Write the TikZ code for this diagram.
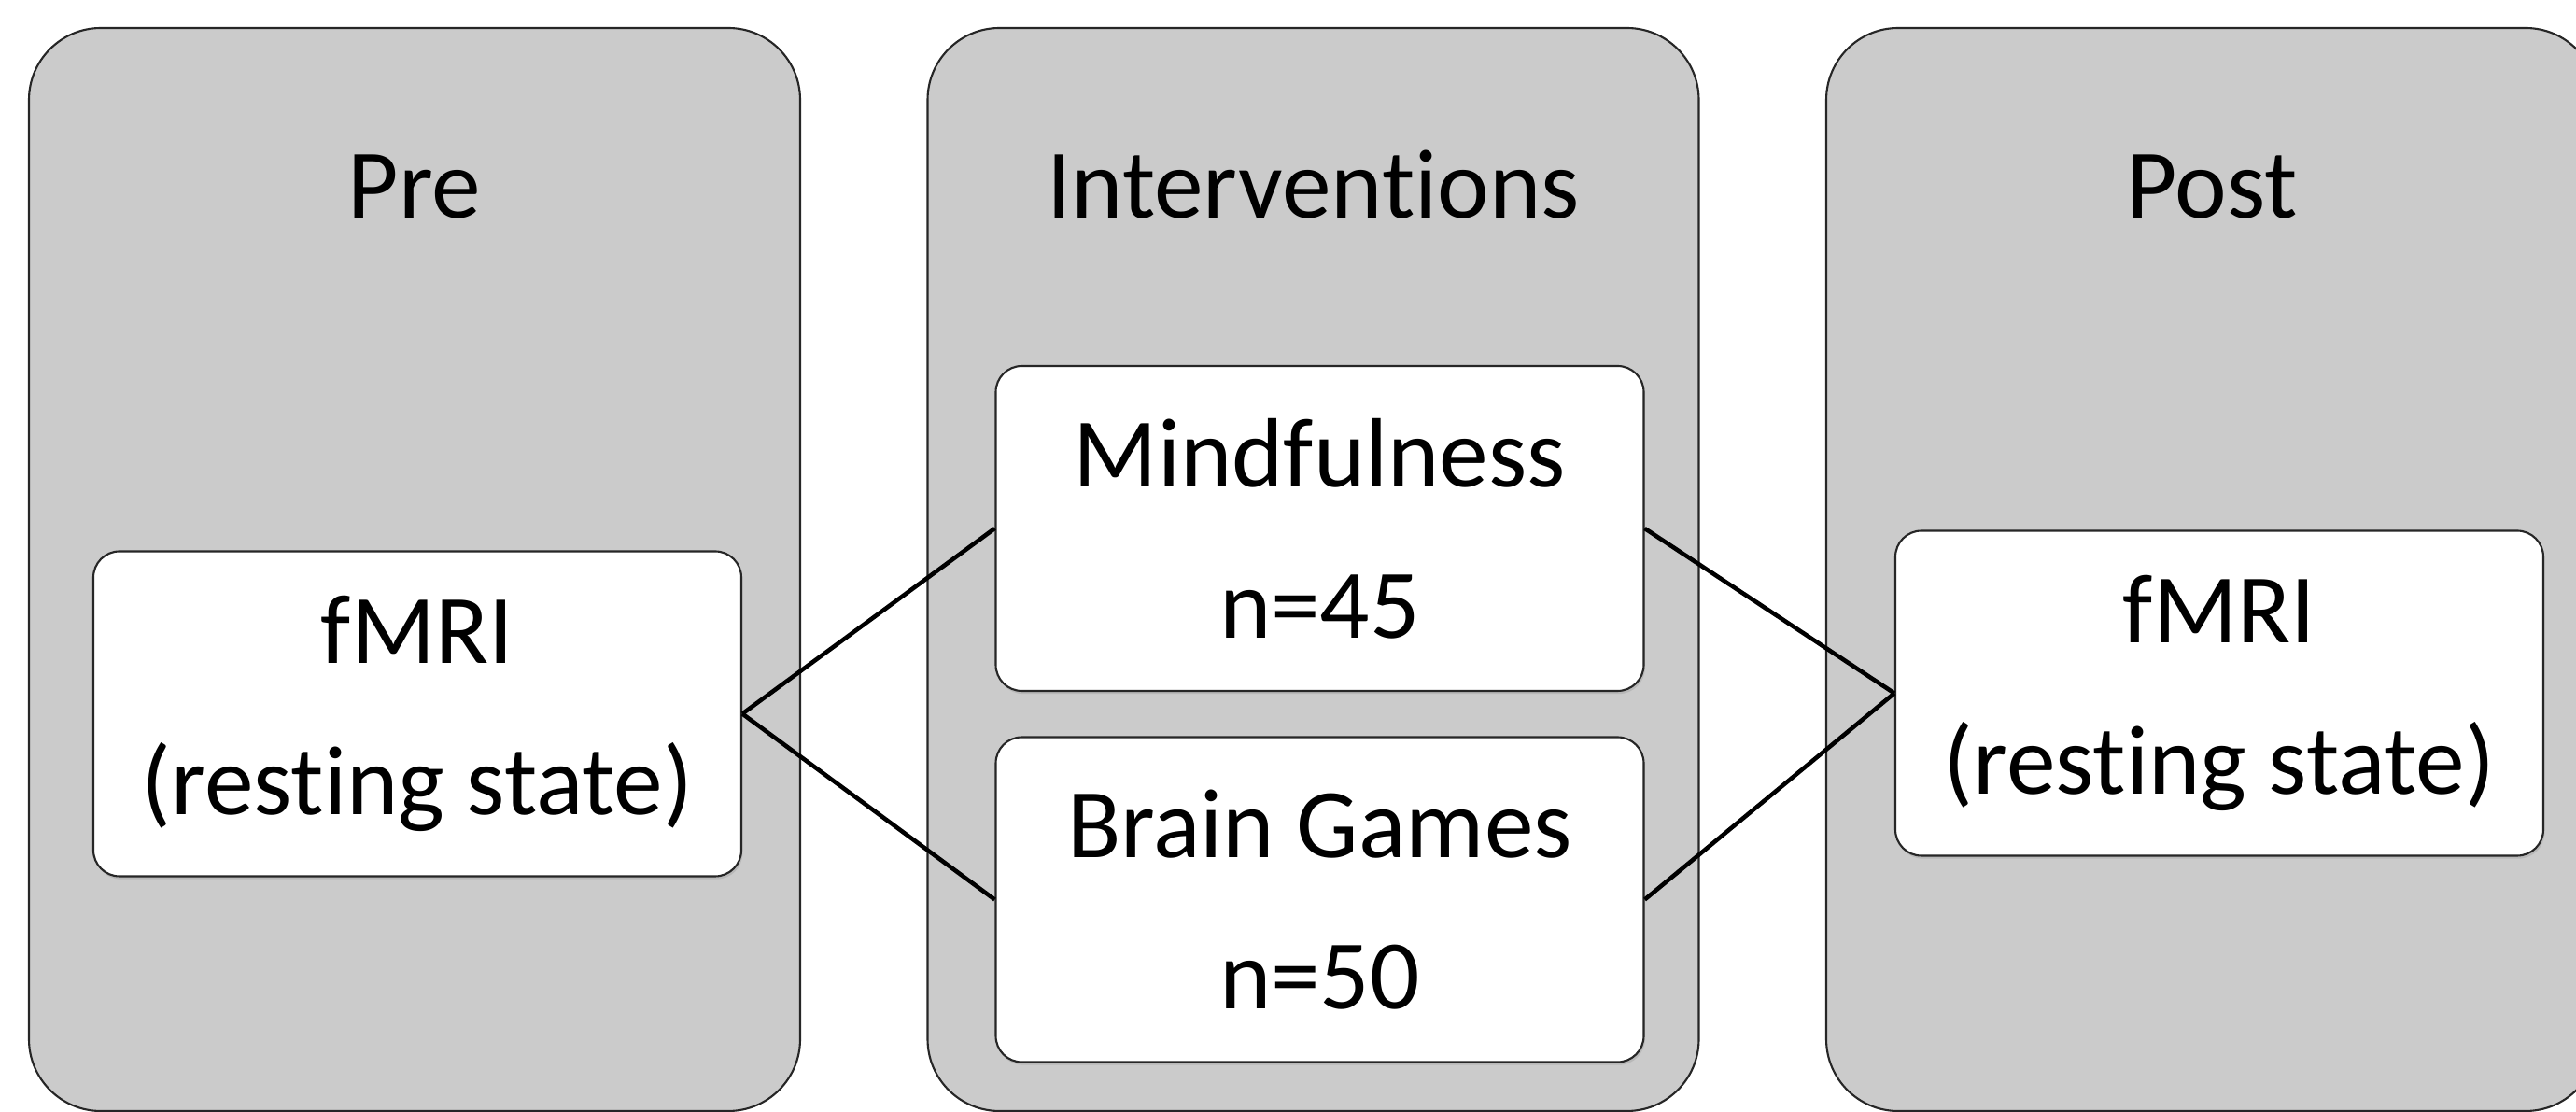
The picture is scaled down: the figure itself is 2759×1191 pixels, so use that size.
\documentclass[tikz,border=0pt]{standalone}
\usepackage{fontspec}
\setmainfont{Carlito}[Ligatures={NoCommon,NoContextual,NoRare},Contextuals=NoAlternate]
\usetikzlibrary{shadows}
\definecolor{panelgray}{RGB}{203,203,203}
\tikzset{
  phase/.style={draw=black!85, fill=panelgray, line width=0.6pt, rounded corners=7.7mm,
    minimum width=82.6mm, minimum height=116mm, inner sep=0pt},
  phasetitle/.style={anchor=base, font=\fontsize{30}{36}\selectfont},
  stagebox/.style={draw=black!85, fill=white, line width=0.6pt, rounded corners=2.8mm,
    minimum width=69.4mm, minimum height=34.8mm, inner sep=0pt, align=center,
    font=\fontsize{30}{46}\selectfont,
    drop shadow={shadow xshift=0.4pt, shadow yshift=-0.9pt, opacity=0.25}},
  link/.style={black, line width=1.3pt}
}
\begin{document}
\begin{tikzpicture}[x=0.1mm,y=0.1mm]
\useasboundingbox (0,0) rectangle (2759,1191);
\node[phase] (pre) at (444,581) {};
\node[phase] (interv) at (1406.5,581) {};
\node[phase] (post) at (2369,581) {};
\node[phasetitle] (pretitle) at (444,957) {Pre};
\node[phasetitle] (intervtitle) at (1406.5,957) {Interventions};
\node[phasetitle] (posttitle) at (2369,957) {Post};
\node[stagebox] (premri) at (447,426.5) {fMRI\\(resting state)};
\node[stagebox] (mind) at (1413.5,625) {Mindfulness\\n=45};
\node[stagebox] (brain) at (1413.5,227.5) {Brain Games\\n=50};
\node[stagebox] (postmri) at (2377,448.5) {fMRI\\(resting state)};
\draw[link] (premri.east) -- (mind.west);
\draw[link] (premri.east) -- (brain.west);
\draw[link] (mind.east) -- (postmri.west);
\draw[link] (brain.east) -- (postmri.west);
\end{tikzpicture}
\end{document}
